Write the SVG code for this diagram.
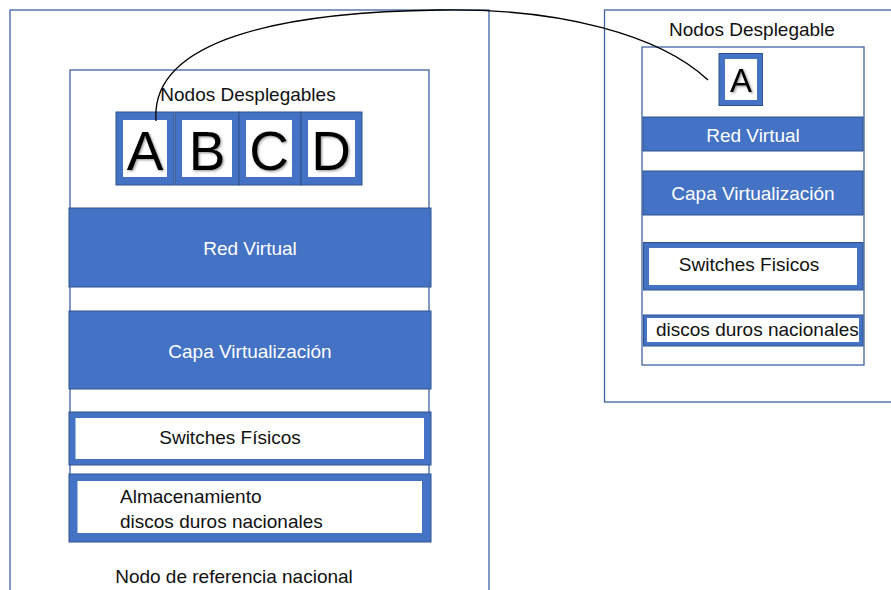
<svg xmlns="http://www.w3.org/2000/svg" width="891" height="590" viewBox="0 0 891 590">
  <style>
    .frame { fill: none; stroke: #4063a3; stroke-width: 1.3; }
    .band { fill: #4472C4; stroke: #2F528F; stroke-width: 1; }
    .slot { fill: #ffffff; }
    .txt { font-family: "Liberation Sans", Arial, sans-serif; font-size: 19px; fill: #111; }
    .wtxt { font-family: "Liberation Sans", Arial, sans-serif; font-size: 19px; fill: #ffffff; }
    .big { font-family: "Liberation Sans", Arial, sans-serif; fill: #000; text-anchor: middle; filter: url(#glow); }
    .mid { text-anchor: middle; }
    .link { fill: none; stroke: #000; stroke-width: 1.3; }
  </style>
  <defs>
    <filter id="glow" x="-20%" y="-20%" width="140%" height="140%">
      <feDropShadow dx="1.2" dy="1.2" stdDeviation="1.2" flood-color="#555" flood-opacity="0.6"/>
    </filter>
  </defs>

  <rect width="891" height="590" fill="#ffffff"/>

  <!-- national reference node -->
  <g id="nodo-referencia">
    <rect class="frame" x="10" y="10" width="479" height="600"/>
    <rect class="frame" x="70" y="70" width="359" height="471"/>
    <text class="txt mid" x="234" y="583">Nodo de referencia nacional</text>
  </g>

  <g id="nodos-desplegables">
    <text class="txt mid" x="248" y="101">Nodos Desplegables</text>
    <g id="nodo-A">
      <rect class="band" x="116" y="112" width="58" height="73"/>
      <rect class="slot" x="123" y="120" width="44" height="57"/>
      <text class="big" x="145" y="170" font-size="55">A</text>
    </g>
    <g id="nodo-B">
      <rect class="band" x="175" y="112" width="64" height="73"/>
      <rect class="slot" x="182" y="120" width="50" height="57"/>
      <text class="big" x="207" y="170" font-size="55">B</text>
    </g>
    <g id="nodo-C">
      <rect class="band" x="239" y="112" width="62" height="73"/>
      <rect class="slot" x="246" y="120" width="46" height="57"/>
      <text class="big" x="269" y="170" font-size="55">C</text>
    </g>
    <g id="nodo-D">
      <rect class="band" x="301" y="112" width="61" height="73"/>
      <rect class="slot" x="308" y="120" width="47" height="57"/>
      <text class="big" x="331" y="170" font-size="55">D</text>
    </g>
  </g>

  <g id="red-virtual">
    <rect class="band" x="69" y="208" width="362" height="79"/>
    <text class="wtxt mid" x="250" y="255">Red Virtual</text>
  </g>

  <g id="capa-virtualizacion">
    <rect class="band" x="69" y="311" width="362" height="78"/>
    <text class="wtxt mid" x="250" y="358">Capa Virtualización</text>
  </g>

  <g id="switches-fisicos">
    <rect class="band" x="69" y="412" width="362" height="53"/>
    <rect class="slot" x="75.5" y="418" width="348.5" height="41"/>
    <text class="txt mid" x="230" y="444">Switches Físicos</text>
  </g>

  <g id="almacenamiento">
    <rect class="band" x="69" y="474" width="362" height="68"/>
    <rect class="slot" x="77.5" y="481" width="344.5" height="52"/>
    <text class="txt" x="120" y="503">Almacenamiento</text>
    <text class="txt" x="120" y="528">discos duros nacionales</text>
  </g>

  <!-- deployed node -->
  <g id="nodo-desplegable">
    <rect class="frame" x="604.5" y="10" width="300" height="392"/>
    <rect class="frame" x="642" y="47" width="222" height="318"/>
    <text class="txt mid" x="752" y="36">Nodos Desplegable</text>
  </g>

  <g id="nodo-A-desplegado">
    <rect class="band" x="719" y="53.5" width="43.5" height="52"/>
    <rect class="slot" x="725" y="59" width="32" height="41"/>
    <text class="big" x="741" y="92" font-size="33">A</text>
  </g>

  <g id="red-virtual-desplegado">
    <rect class="band" x="643" y="117" width="220" height="34"/>
    <text class="wtxt mid" x="753" y="142">Red Virtual</text>
  </g>

  <g id="capa-virtualizacion-desplegado">
    <rect class="band" x="643" y="171" width="220" height="44"/>
    <text class="wtxt mid" x="753" y="200">Capa Virtualización</text>
  </g>

  <g id="switches-fisicos-desplegado">
    <rect class="band" x="643.5" y="242.5" width="219.5" height="47.5"/>
    <rect class="slot" x="649" y="248" width="208" height="37"/>
    <text class="txt mid" x="749" y="271">Switches Fisicos</text>
  </g>

  <g id="discos-desplegado">
    <rect class="band" x="643.5" y="315" width="219.5" height="31"/>
    <rect class="slot" x="647" y="318" width="212" height="24"/>
    <text class="txt" x="656" y="336">discos duros nacionales</text>
  </g>

  <!-- connectors -->
  <g id="connectors">
    <path class="link" d="M156,121 C150,40 280,12 440,10 C560,8 660,35 708,80"/>
  </g>
</svg>
